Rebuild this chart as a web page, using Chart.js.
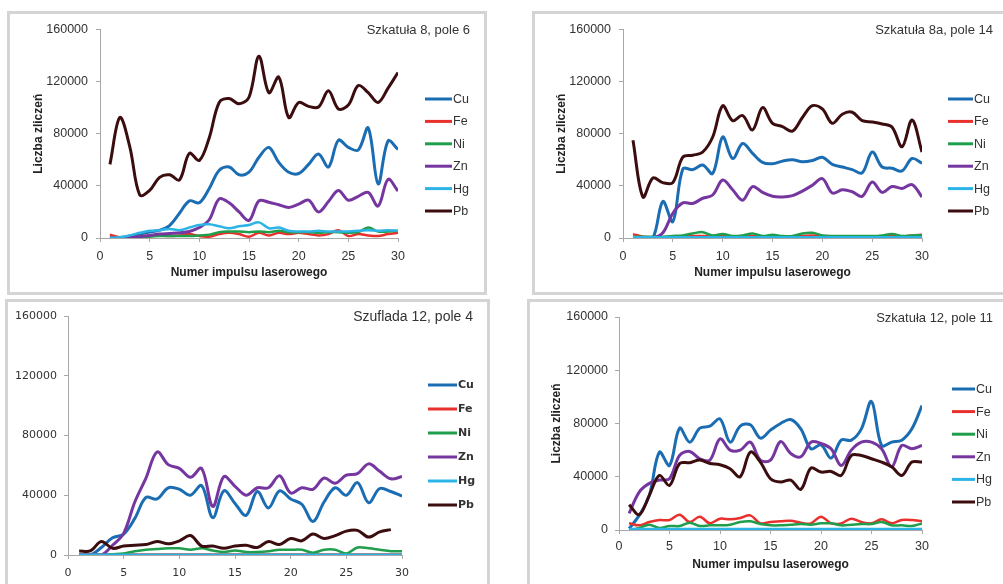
<!DOCTYPE html>
<html>
<head>
<meta charset="utf-8">
<script src="https://cdn.jsdelivr.net/npm/chart.js@4.4.0/dist/chart.umd.min.js"></script>
<style>
  html, body { margin: 0; padding: 0; background: #fff; width: 1003px; height: 584px; overflow: hidden; }
  .panel { position: absolute; border: 3px solid #d4d4d4; background: #fff; overflow: hidden; }
  .panel canvas { display: block; }
</style>
</head>
<body>
<div class="panel" style="left:7px;top:11px;width:474px;height:278px;"><canvas id="c1" width="474" height="278"></canvas></div>
<div class="panel" style="left:532px;top:11px;width:478px;height:278px;"><canvas id="c2" width="478" height="278"></canvas></div>
<div class="panel" style="left:5px;top:299px;width:479px;height:290px;"><canvas id="c3" width="479" height="282"></canvas></div>
<div class="panel" style="left:527px;top:299px;width:480px;height:290px;"><canvas id="c4" width="480" height="282"></canvas></div>

<script>
// ---------- Data ----------
const PULSES = [1, 2, 3, 4, 5, 6, 7, 8, 9, 10, 11, 12, 13, 14, 15, 16, 17, 18, 19, 20, 21, 22, 23, 24, 25, 26, 27, 28, 29, 30];
const ELEMENTS = ["Cu", "Fe", "Ni", "Zn", "Hg", "Pb"];
const X_TICKS = [0, 5, 10, 15, 20, 25, 30];
const Y_TICKS = [0, 40000, 80000, 120000, 160000];
const TITLES = ["Szkatuła 8, pole 6", "Szkatuła 8a, pole 14", "Szuflada 12, pole 4", "Szkatuła 12, pole 11"];

// Szkatuła 8, pole 6
const P1_CU = [0, 300, 1500, 3000, 4500, 6000, 9500, 19000, 28500, 27000, 38000, 52000, 54500, 48500, 50500, 62000, 69500, 58000, 50500, 49500, 56500, 64500, 54500, 75000, 69500, 67500, 84500, 41500, 74500, 68000];
const P1_FE = [2500, 500, 500, 1000, 2000, 2000, 1500, 2000, 3000, 1500, 1000, 3000, 4000, 3000, 1000, 4000, 2000, 4000, 3000, 4000, 3000, 2000, 3000, 6000, 1500, 3000, 2000, 1500, 3000, 4000];
const P1_NI = [0, 0, 500, 1000, 1000, 1500, 1500, 1500, 1500, 2000, 2500, 4500, 5000, 5000, 4500, 5000, 4500, 5500, 4500, 4500, 4500, 4000, 4500, 4500, 4000, 4500, 8000, 5000, 5000, 5500];
const P1_ZN = [0, 0, 500, 1000, 2000, 3000, 3500, 4000, 5000, 8000, 14000, 30000, 27000, 20000, 13500, 28500, 27500, 25500, 23500, 26000, 29000, 20000, 28000, 36500, 29000, 32000, 35000, 24500, 45000, 36000];
const P1_HG = [0, 500, 2000, 4000, 5500, 6000, 7000, 6000, 8000, 10000, 10500, 9000, 7500, 9000, 10000, 12000, 7500, 8000, 5500, 5000, 5000, 5500, 5000, 5000, 5000, 5500, 6000, 5500, 6000, 5500];
const P1_PB = [56500, 92500, 70000, 33000, 36500, 46500, 48500, 44500, 65000, 59500, 77000, 104000, 107000, 103000, 108000, 139500, 111500, 123500, 92500, 104000, 101000, 100500, 113000, 99000, 102000, 117000, 111500, 104000, 115000, 127000];

// Szkatuła 8a, pole 14
const P2_CU = [0, 0, 0, 28000, 12500, 53000, 52500, 56000, 49500, 77500, 61000, 72500, 65000, 58000, 57000, 59000, 60000, 58500, 59500, 62000, 56500, 54500, 52500, 50000, 66000, 54500, 53500, 51500, 61000, 57500];
const P2_FE = [3000, 1000, 500, 500, 0, 1000, 1500, 1500, 1000, 1500, 1000, 1000, 1500, 1000, 1500, 1000, 1000, 1500, 2000, 1500, 1000, 1000, 1000, 1000, 1000, 1000, 1500, 1000, 2000, 2500];
const P2_NI = [1000, 1000, 1000, 1000, 1500, 2000, 3500, 4500, 2000, 3000, 1500, 2000, 3500, 1500, 2500, 1500, 1500, 3500, 4000, 2000, 1500, 1500, 1500, 1500, 1500, 2000, 3000, 1500, 2000, 2000];
const P2_ZN = [0, 0, 0, 4000, 19000, 27000, 26500, 30500, 33000, 44500, 37000, 29000, 39500, 35000, 32000, 31500, 32500, 36000, 40500, 45500, 34500, 37000, 35500, 32000, 43000, 35000, 39500, 38000, 41000, 31500];
const P2_HG = [500, 500, 500, 500, 500, 500, 500, 500, 500, 500, 500, 500, 500, 500, 500, 500, 500, 500, 500, 500, 500, 500, 500, 500, 500, 500, 500, 500, 500, 500];
const P2_PB = [75000, 31500, 46000, 42500, 42500, 62000, 63500, 66000, 77500, 101500, 90000, 94000, 83000, 100000, 88000, 85500, 82000, 92500, 101500, 99000, 88000, 95000, 96500, 90000, 89000, 87500, 85000, 70000, 90500, 66000];

// Szuflada 12, pole 4
const P3_CU = [0, 0, 5000, 11500, 14000, 24500, 38500, 37500, 45000, 44000, 40000, 46500, 25000, 43000, 34500, 26500, 42500, 31500, 43000, 37500, 34000, 22500, 35500, 45000, 40000, 48500, 35000, 44500, 42500, 39500];
const P3_FE = [300, 300, 300, 300, 300, 300, 300, 300, 300, 300, 300, 300, 300, 300, 300, 300, 300, 300, 300, 300, 300, 300, 300, 300, 300, 300, 300, 300, 300, 300];
const P3_NI = [0, 0, 0, 500, 1000, 2500, 3500, 4000, 4500, 4500, 3500, 4500, 3000, 2000, 3000, 2000, 2000, 2500, 3500, 3500, 3500, 1500, 3500, 3500, 1000, 5000, 4500, 3500, 2500, 2500];
const P3_ZN = [0, 0, 0, 6500, 14500, 35500, 51500, 69000, 60500, 58000, 52000, 58000, 32500, 52500, 46000, 40000, 45000, 45000, 53000, 41500, 45000, 44000, 51500, 48000, 53500, 54500, 61000, 56000, 51000, 52500];
const P3_HG = [100, 100, 100, 100, 100, 100, 100, 100, 100, 100, 100, 100, 100, 100, 100, 100, 100, 100, 100, 100, 100, 100, 100, 100, 100, 100, 100, 100, 100, 100];
const P3_PB = [2700, 2700, 9000, 4500, 6000, 6500, 7000, 9000, 7500, 9500, 13000, 6000, 6000, 4500, 6000, 6500, 5000, 9000, 7000, 11000, 9500, 14000, 11000, 13000, 16000, 16500, 12000, 15500, 17000, null];

// Szkatuła 12, pole 11
const P4_CU = [1000, 11000, 26000, 58500, 48500, 76500, 66000, 76500, 78000, 83500, 66000, 78000, 79000, 69000, 75000, 80000, 83000, 76000, 61000, 64000, 54000, 67500, 67500, 76000, 96500, 63500, 66000, 67500, 76000, 93500];
const P4_FE = [5000, 3500, 6000, 7500, 7500, 11500, 6000, 10000, 5000, 8500, 8000, 9000, 11000, 5000, 6000, 6500, 7000, 5500, 5000, 10000, 5000, 5000, 8500, 6000, 5000, 8000, 5000, 7500, 7500, 6500];
const P4_NI = [0, 1500, 4000, 1500, 3000, 3000, 5500, 3000, 3500, 3500, 4000, 6000, 6500, 4500, 3500, 3500, 4000, 4500, 4000, 5000, 5000, 3500, 4000, 4500, 4500, 6000, 3500, 3500, 3000, 5000];
const P4_ZN = [12500, 28500, 35000, 37500, 38500, 56000, 59000, 53500, 52500, 68500, 60000, 60000, 66000, 52500, 52500, 66500, 57500, 55000, 66000, 65000, 61000, 48500, 60000, 66000, 66000, 61000, 47500, 63500, 61000, 63500];
const P4_HG = [800, 800, 800, 800, 800, 800, 800, 800, 800, 800, 800, 800, 800, 800, 800, 800, 800, 800, 800, 800, 800, 800, 800, 800, 800, 800, 800, 800, 800, 800];
const P4_PB = [19000, 11500, 26000, 41000, 33500, 50000, 50500, 52500, 50000, 49000, 46000, 40000, 58500, 51000, 38500, 36000, 37500, 30500, 46500, 43500, 44000, 41000, 56000, 56000, 53500, 51000, 47500, 41000, 51000, 51000];

// ---------- Styles ----------
const COLORS = ["#1b6db3", "#e8302c", "#1f9e4b", "#7636a0", "#2cb4e6", "#3c0d0f"];
const WIDTHS = [3, 2.5, 2.5, 3, 2.5, 3];
const TXT = "#333333";
const AXIS = "#a8a8a8";
const SANS = "'Liberation Sans', Arial, sans-serif";
const VERD = "'DejaVu Sans', Verdana, sans-serif";

// Corner title + side legend, drawn from the chart's own datasets
const panelDecor = {
  id: "panelDecor",
  afterDraw(chart, args, o) {
    const ctx = chart.ctx;
    ctx.save();
    ctx.fillStyle = TXT;
    ctx.textBaseline = "middle";
    ctx.font = o.titleFont;
    ctx.textAlign = "right";
    ctx.fillText(o.title, o.titleX, o.titleY);
    ctx.font = o.legendFont;
    ctx.textAlign = "left";
    chart.data.datasets.forEach((ds, i) => {
      const y = o.legendY + i * o.legendStep;
      ctx.strokeStyle = ds.borderColor;
      ctx.lineWidth = 3;
      ctx.beginPath();
      ctx.moveTo(o.legendX, y);
      ctx.lineTo(o.legendX + o.lineLen, y);
      ctx.stroke();
      ctx.fillText(ds.label, o.legendX + o.lineLen + 1, y + 0.5);
    });
    ctx.restore();
  }
};

function series(values) {
  return values.map((v, i) => ({ x: PULSES[i], y: v }));
}

function makeChart(id, rows, cfg) {
  const datasets = ELEMENTS.map((name, i) => ({
    label: name,
    data: series(rows[i]),
    borderColor: COLORS[i],
    backgroundColor: COLORS[i],
    borderWidth: WIDTHS[i],
    pointRadius: 0,
    tension: 0.35,
    fill: false,
    order: ELEMENTS.length - i,
  }));

  return new Chart(document.getElementById(id), {
    type: "line",
    data: { datasets },
    plugins: [panelDecor],
    options: {
      responsive: false,
      animation: false,
      layout: { padding: cfg.padding },
      plugins: {
        legend: { display: false },
        tooltip: { enabled: false },
        panelDecor: cfg.decor,
      },
      scales: {
        x: {
          type: "linear",
          min: 0, max: 30,
          afterFit: s => { s.height = cfg.xH; },
          afterBuildTicks: s => { s.ticks = X_TICKS.map(v => ({ value: v })); },
          ticks: { color: TXT, font: cfg.tickFont, padding: cfg.xPad, maxRotation: 0 },
          grid: { drawOnChartArea: false, drawTicks: true, tickLength: 4, color: AXIS },
          border: { color: AXIS, width: 1 },
          title: {
            display: !!cfg.xTitle, text: "Numer impulsu laserowego",
            color: "#222", font: { family: SANS, size: 12, weight: "bold" }, padding: 0,
          },
        },
        y: {
          min: 0, max: 160000,
          afterFit: s => { s.width = cfg.yW; },
          afterBuildTicks: s => { s.ticks = Y_TICKS.map(v => ({ value: v })); },
          ticks: { color: TXT, font: cfg.tickFont, padding: cfg.yPad, callback: v => String(v) },
          grid: { drawOnChartArea: false, drawTicks: true, tickLength: 4, color: AXIS },
          border: { color: AXIS, width: 1 },
          title: {
            display: !!cfg.yTitle, text: "Liczba zliczeń",
            color: "#222", font: { family: SANS, size: 12, weight: "bold" }, padding: 0,
          },
        },
      },
    },
  });
}

// ---------- Panels ----------
const bigTick = { family: SANS, size: 12.5 };

makeChart("c1", [P1_CU, P1_FE, P1_NI, P1_ZN, P1_HG, P1_PB], {
  padding: { left: 21, top: 14, right: 86, bottom: 12 },
  yW: 69, xH: 42, xPad: 7, yPad: 8, xTitle: true, yTitle: true, tickFont: bigTick,
  decor: {
    title: TITLES[0], titleX: 460, titleY: 16, titleFont: "13px " + SANS,
    legendX: 415, legendY: 85, legendStep: 22.4, lineLen: 27, legendFont: "12.5px " + SANS,
  },
});

makeChart("c2", [P2_CU, P2_FE, P2_NI, P2_ZN, P2_HG, P2_PB], {
  padding: { left: 19, top: 14, right: 91, bottom: 12 },
  yW: 69, xH: 42, xPad: 7, yPad: 8, xTitle: true, yTitle: true, tickFont: bigTick,
  decor: {
    title: TITLES[1], titleX: 458, titleY: 16, titleFont: "13px " + SANS,
    legendX: 413, legendY: 85, legendStep: 22.4, lineLen: 25, legendFont: "12.5px " + SANS,
  },
});

makeChart("c3", [P3_CU, P3_FE, P3_NI, P3_ZN, P3_HG, P3_PB], {
  padding: { left: 3, top: 14, right: 85, bottom: 0 },
  yW: 57, xH: 29, xPad: 8, yPad: 7, xTitle: false, yTitle: false,
  tickFont: { family: VERD, size: 11 },
  decor: {
    title: TITLES[2], titleX: 465, titleY: 15, titleFont: "14px " + SANS,
    legendX: 420, legendY: 83, legendStep: 24, lineLen: 29, legendFont: "bold 11px " + VERD,
  },
});

makeChart("c4", [P4_CU, P4_FE, P4_NI, P4_ZN, P4_HG, P4_PB], {
  padding: { left: 19, top: 15, right: 88, bottom: 12 },
  yW: 70, xH: 42, xPad: 5, yPad: 7, xTitle: true, yTitle: true, tickFont: bigTick,
  decor: {
    title: TITLES[3], titleX: 463, titleY: 16, titleFont: "13px " + SANS,
    legendX: 422, legendY: 87, legendStep: 22.6, lineLen: 23, legendFont: "12.5px " + SANS,
  },
});
</script>
</body>
</html>
